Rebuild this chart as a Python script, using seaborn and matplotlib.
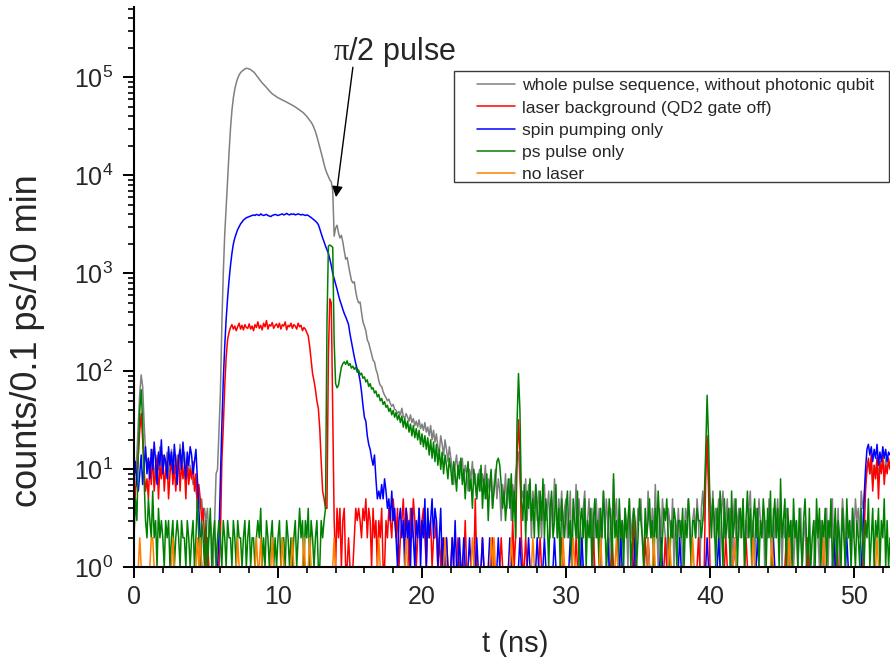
import numpy as np
import matplotlib
matplotlib.use('Agg')
import matplotlib.pyplot as plt
import seaborn as sns
from matplotlib.ticker import LogLocator, MultipleLocator, NullFormatter
from matplotlib.patches import Rectangle

# time bins of 0.1 ns, counts (0 = empty bin)
bin_ns = 0.1

whole_seq = [
    12, 10, 14, 30, 60, 92, 70, 30, 15, 11, 13, 9, 12, 16, 8, 11, 14, 10, 17, 12,
    9, 13, 11, 15, 8, 12, 16, 10, 13, 9, 14, 11, 18, 9, 12, 15, 10, 13, 8, 11,
    9, 7, 8, 6, 5, 6, 4, 5, 3, 4, 3, 4, 2, 3, 2, 1, 0, 9, 10, 25,
    60, 300, 1000, 2500, 4800, 9000, 17000, 30000, 46000, 62000, 76000, 88000, 98000, 106000, 112000, 116000, 119000, 122000, 124000, 123500,
    122000, 120000, 117000, 114000, 110000, 105000, 100000, 96000, 92000, 88000, 85000, 82000, 79000, 76000, 73000, 70500, 68000, 66500, 65000, 63500,
    62000, 61000, 60000, 59000, 58000, 57000, 56000, 55000, 54000, 53000, 52000, 51000, 50000, 48800, 47500, 46500, 45500, 44300, 43000, 41500,
    40000, 38300, 36500, 35000, 33000, 30500, 28000, 25000, 22000, 19500, 17000, 15000, 13000, 11500, 10500, 9700, 9000, 8600, 7000, 2400,
    2900, 3100, 2600, 2300, 2450, 2100, 1700, 1400, 1450, 1200, 1000, 850, 800, 820, 650, 550, 500, 510, 400, 320,
    290, 260, 210, 195, 170, 150, 130, 125, 105, 95, 80, 72, 70, 62, 57, 54, 50, 52, 47, 44,
    46, 41, 40, 37, 39, 36, 42, 35, 33, 37, 34, 31, 36, 30, 33, 28, 31, 27, 32, 26,
    29, 25, 30, 24, 27, 22, 28, 20, 25, 19, 23, 17, 15, 22, 18, 14, 20, 16, 12, 17,
    13, 10, 7, 11, 14, 9, 12, 10, 13, 8, 11, 9, 6, 10, 8, 12, 7, 9, 5, 8,
    10, 6, 9, 7, 11, 5, 8, 6, 9, 4, 7, 10, 5, 8, 6, 3, 7, 5, 9, 4,
    6, 8, 3, 7, 5, 9, 12, 15, 8, 5, 6, 4, 8, 3, 7, 5, 2, 6, 4, 7,
    3, 6, 4, 2, 5, 7, 3, 4, 6, 2, 5, 3, 8, 4, 2, 5, 3, 6, 2, 4,
    5, 2, 3, 6, 1, 4, 3, 7, 2, 5, 3, 1, 4, 6, 2, 3, 5, 2, 4, 1,
    3, 5, 2, 4, 1, 3, 6, 2, 5, 3, 1, 4, 2, 8, 3, 5, 2, 4, 1, 3,
    2, 4, 3, 1, 5, 2, 3, 4, 1, 2, 4, 3, 5, 2, 1, 3, 2, 6, 3, 2,
    4, 2, 7, 3, 1, 4, 2, 5, 3, 2, 1, 4, 3, 2, 5, 1, 3, 2, 4, 2,
    3, 1, 2, 4, 3, 5, 2, 1, 3, 4, 2, 5, 3, 1, 4, 6, 3, 10, 20, 8,
    5, 3, 6, 2, 4, 3, 5, 1, 4, 6, 2, 3, 5, 2, 4, 1, 3, 5, 2, 3,
    4, 2, 3, 5, 1, 3, 2, 4, 6, 2, 3, 1, 4, 2, 5, 3, 2, 4, 1, 3,
    2, 5, 3, 1, 4, 2, 3, 5, 2, 4, 1, 3, 2, 4, 3, 1, 2, 3, 1, 2,
    3, 1, 2, 4, 1, 2, 3, 1, 2, 1, 0, 0, 1, 3, 0, 2, 1, 3, 2, 1,
    2, 4, 1, 3, 2, 5, 1, 3, 2, 4, 1, 2, 5, 3, 1, 4, 2, 3, 1, 4,
    2, 5, 3, 4, 2, 6, 4, 5, 8, 10, 12, 9, 13, 7, 11, 9, 13, 8, 12, 10,
    12, 9, 13, 10, 11, 12,
]

laser_bg = [
    3, 6, 9, 14, 25, 37, 20, 10, 6, 8, 5, 12, 7, 15, 6, 9, 13, 5, 11, 8,
    14, 6, 10, 12, 5, 9, 13, 7, 11, 6, 10, 14, 6, 12, 8, 11, 5, 13, 7, 10,
    8, 12, 6, 9, 4, 7, 5, 3, 4, 2, 1, 2, 1, 1, 0, 1, 1, 0, 1, 1,
    2, 12, 27, 70, 140, 210, 250, 280, 300, 270, 290, 260, 285, 310, 270, 295, 265, 300, 280, 275,
    305, 270, 290, 260, 300, 280, 320, 275, 295, 265, 310, 285, 330, 270, 300, 290, 315, 275, 295, 305,
    280, 310, 270, 300, 290, 320, 265, 295, 285, 310, 275, 300, 290, 270, 310, 285, 295, 260, 280, 270,
    250, 230, 180, 130, 95, 80, 65, 50, 42, 26, 12, 6, 5, 4, 4, 150, 550, 500, 40, 3,
    1, 4, 2, 4, 1, 3, 4, 1, 1, 2, 1, 1, 1, 2, 4, 3, 4, 3, 2, 4,
    3, 5, 2, 4, 3, 1, 4, 2, 3, 1, 3, 2, 4, 1, 1, 3, 2, 4, 3, 2,
    5, 3, 2, 4, 1, 2, 3, 5, 2, 4, 3, 1, 4, 2, 5, 3, 1, 2, 4, 2,
    3, 4, 2, 1, 3, 2, 3, 1, 2, 2, 3, 1, 2, 1, 2, 1, 1, 2, 1, 1,
    1, 2, 1, 1, 1, 2, 1, 1, 1, 1, 3, 1, 1, 1, 1, 1, 1, 5, 1, 1,
    1, 1, 2, 1, 1, 1, 1, 1, 1, 2, 1, 1, 1, 1, 1, 2, 1, 1, 1, 1,
    1, 1, 1, 3, 1, 2, 12, 32, 15, 2, 1, 1, 2, 1, 1, 1, 1, 1, 1, 1,
    1, 1, 2, 1, 1, 1, 1, 1, 1, 1, 1, 1, 1, 1, 1, 1, 1, 2, 1, 1,
    1, 1, 1, 1, 1, 1, 1, 2, 1, 1, 1, 1, 1, 1, 1, 1, 1, 1, 1, 2,
    1, 1, 1, 1, 1, 1, 1, 1, 1, 1, 1, 1, 2, 1, 1, 1, 1, 1, 1, 1,
    1, 1, 1, 1, 1, 1, 1, 3, 1, 1, 1, 1, 1, 1, 1, 2, 1, 1, 1, 1,
    1, 1, 1, 1, 1, 1, 1, 1, 1, 2, 1, 1, 1, 1, 1, 1, 1, 1, 1, 1,
    1, 1, 1, 1, 1, 1, 1, 1, 1, 1, 1, 1, 2, 1, 1, 1, 1, 8, 22, 6,
    1, 1, 1, 1, 1, 1, 1, 1, 1, 1, 1, 2, 1, 1, 1, 1, 1, 1, 1, 1,
    1, 1, 1, 1, 1, 2, 1, 1, 1, 1, 1, 1, 1, 1, 1, 1, 1, 1, 1, 1,
    1, 1, 1, 1, 1, 1, 1, 1, 1, 1, 1, 1, 1, 2, 1, 1, 1, 1, 1, 1,
    1, 1, 1, 1, 1, 1, 1, 1, 2, 1, 1, 1, 1, 1, 1, 1, 1, 1, 1, 1,
    1, 1, 1, 1, 1, 1, 1, 1, 2, 1, 1, 1, 1, 1, 1, 1, 1, 1, 1, 1,
    1, 1, 1, 1, 1, 1, 1, 2, 6, 10, 13, 9, 14, 6, 11, 8, 13, 5, 12, 9,
    14, 7, 11, 9, 13, 10,
]

spin_pumping = [
    8, 12, 7, 6, 9, 14, 7, 11, 17, 9, 13, 8, 16, 10, 19, 12, 7, 15, 11, 20,
    9, 14, 12, 8, 17, 11, 15, 9, 18, 12, 7, 13, 16, 10, 19, 12, 8, 15, 11, 17,
    14, 9, 12, 16, 8, 4, 2, 1, 1, 1, 1, 1, 0, 1, 1, 0, 1, 1, 1, 2,
    8, 28, 80, 180, 340, 560, 850, 1200, 1600, 2000, 2300, 2550, 2800, 3000, 3200, 3350, 3500, 3600, 3700, 3750,
    3800, 3850, 3900, 3950, 3900, 4000, 3950, 3900, 4050, 3950, 3900, 3950, 4000, 3900, 3850, 3800, 3900, 3950, 4000, 3950,
    3900, 3950, 4000, 4050, 3950, 4000, 4100, 4000, 3950, 4050, 4000, 4050, 3950, 4000, 4050, 4000, 3950, 4000, 3950, 3900,
    3950, 3900, 3800, 3720, 3620, 3520, 3420, 3300, 3150, 2850, 2550, 2300, 2100, 1900, 1740, 1600, 1400, 1200, 1000, 880,
    780, 690, 600, 530, 480, 430, 390, 360, 330, 300, 240, 200, 165, 140, 120, 105, 96, 80, 62, 45,
    34, 31, 22, 18, 16, 13, 11, 14, 8, 5, 6, 5, 7, 5, 8, 6, 4, 5, 3, 6,
    3, 4, 2, 1, 3, 4, 2, 3, 1, 4, 2, 3, 1, 4, 2, 1, 3, 2, 4, 1,
    3, 2, 5, 1, 4, 2, 3, 5, 2, 4, 3, 1, 2, 4, 1, 2, 1, 2, 1, 1,
    1, 2, 1, 3, 1, 1, 2, 1, 1, 2, 1, 1, 1, 2, 1, 0, 1, 1, 2, 1,
    1, 1, 2, 1, 1, 1, 1, 2, 1, 1, 1, 1, 1, 2, 1, 1, 0, 1, 1, 1,
    1, 2, 1, 1, 1, 1, 1, 1, 2, 1, 1, 1, 1, 1, 2, 1, 1, 1, 1, 1,
    2, 1, 1, 1, 1, 2, 1, 1, 1, 1, 1, 1, 2, 1, 1, 1, 1, 1, 1, 1,
    1, 1, 1, 2, 1, 1, 1, 1, 1, 1, 1, 2, 1, 1, 1, 1, 1, 1, 1, 1,
    1, 1, 1, 1, 1, 1, 1, 1, 1, 2, 1, 1, 1, 1, 1, 1, 1, 1, 2, 1,
    1, 1, 1, 1, 1, 1, 1, 1, 2, 1, 1, 1, 1, 1, 1, 1, 1, 2, 1, 1,
    1, 1, 1, 1, 1, 1, 2, 1, 1, 1, 1, 1, 1, 1, 1, 1, 1, 1, 1, 2,
    1, 1, 1, 1, 1, 1, 1, 1, 1, 1, 1, 1, 1, 1, 1, 1, 1, 1, 2, 1,
    1, 1, 1, 1, 1, 1, 2, 1, 1, 1, 1, 1, 1, 1, 1, 1, 1, 2, 1, 1,
    1, 1, 1, 1, 1, 1, 1, 1, 1, 1, 1, 1, 1, 2, 1, 1, 1, 1, 1, 1,
    1, 1, 1, 1, 2, 1, 1, 1, 1, 1, 1, 1, 1, 1, 1, 1, 1, 1, 1, 1,
    1, 1, 1, 1, 1, 1, 1, 1, 1, 1, 1, 1, 1, 1, 1, 1, 1, 1, 1, 1,
    1, 1, 1, 1, 1, 1, 2, 1, 1, 1, 1, 1, 1, 1, 1, 2, 1, 1, 1, 1,
    1, 1, 1, 1, 1, 1, 2, 5, 10, 16, 18, 14, 17, 12, 16, 13, 18, 11, 15, 12,
    17, 13, 16, 12, 15, 14,
]

ps_pulse = [
    2, 5, 3, 15, 40, 65, 30, 8, 3, 2, 5, 3, 2, 6, 2, 3, 1, 4, 2, 3,
    2, 1, 3, 2, 3, 1, 2, 3, 1, 2, 3, 2, 1, 3, 2, 2, 1, 3, 2, 1,
    2, 3, 1, 2, 5, 2, 1, 3, 2, 1, 3, 1, 2, 4, 1, 2, 3, 1, 2, 3,
    2, 1, 3, 2, 1, 3, 2, 2, 1, 3, 2, 1, 3, 2, 2, 1, 2, 3, 1, 2,
    3, 1, 2, 2, 1, 2, 3, 2, 4, 1, 2, 1, 3, 2, 1, 2, 3, 1, 2, 1,
    2, 3, 1, 2, 2, 1, 3, 2, 1, 2, 1, 2, 3, 1, 2, 4, 2, 3, 1, 3,
    2, 4, 1, 3, 2, 1, 2, 3, 1, 1, 3, 2, 3, 4, 300, 1900, 1950, 1900, 1850, 200,
    75, 68, 72, 90, 110, 120, 125, 118, 128, 115, 120, 108, 113, 105, 110, 98, 103, 92, 96, 85,
    88, 78, 82, 70, 75, 66, 68, 60, 63, 55, 58, 50, 53, 46, 49, 43, 45, 39, 42, 36,
    40, 34, 38, 32, 36, 30, 35, 27, 33, 26, 31, 24, 29, 22, 28, 21, 26, 20, 25, 18,
    23, 17, 22, 16, 21, 14, 20, 13, 19, 12, 18, 11, 16, 10, 15, 9, 14, 11, 8, 13,
    10, 7, 12, 9, 6, 11, 8, 13, 7, 10, 5, 9, 12, 6, 8, 4, 10, 7, 5, 9,
    6, 11, 4, 8, 5, 9, 3, 7, 10, 4, 6, 8, 12, 13, 11, 7, 4, 6, 3, 5,
    8, 4, 9, 3, 6, 2, 30, 95, 40, 5, 3, 7, 2, 6, 4, 8, 3, 5, 2, 7,
    4, 2, 6, 3, 8, 2, 5, 3, 1, 4, 6, 2, 3, 7, 2, 4, 1, 5, 3, 2,
    4, 6, 2, 3, 1, 5, 3, 2, 6, 1, 3, 4, 2, 5, 1, 3, 2, 4, 1, 3,
    5, 2, 3, 1, 4, 2, 6, 3, 1, 2, 5, 3, 1, 9, 2, 3, 1, 5, 2, 3,
    1, 4, 2, 3, 5, 1, 2, 4, 3, 1, 2, 5, 3, 2, 1, 4, 2, 3, 5, 2,
    3, 1, 4, 2, 6, 3, 1, 2, 4, 3, 5, 2, 1, 3, 2, 4, 3, 1, 3, 3,
    2, 4, 1, 3, 2, 5, 3, 1, 3, 3, 2, 4, 3, 3, 2, 3, 5, 15, 57, 20,
    4, 2, 5, 3, 1, 4, 2, 6, 3, 1, 5, 2, 3, 4, 1, 6, 2, 3, 5, 1,
    3, 4, 2, 5, 1, 3, 6, 2, 4, 1, 3, 5, 2, 4, 1, 3, 2, 5, 3, 1,
    4, 2, 6, 1, 3, 5, 2, 4, 1, 8, 2, 3, 5, 1, 4, 2, 3, 1, 5, 2,
    3, 1, 4, 2, 1, 3, 5, 2, 1, 4, 1, 2, 3, 1, 5, 2, 4, 1, 3, 2,
    4, 1, 3, 2, 5, 1, 2, 4, 1, 3, 2, 1, 4, 2, 1, 5, 2, 3, 1, 4,
    2, 1, 3, 2, 1, 4, 2, 1, 3, 2, 5, 1, 2, 4, 1, 3, 2, 4, 1, 3,
    2, 5, 1, 3, 1, 2,
]

no_laser = [
    1, 1, 1, 1, 2, 1, 1, 1, 1, 1, 1, 1, 2, 2, 1, 1, 1, 1, 1, 1,
    1, 1, 1, 1, 1, 1, 1, 2, 1, 1, 1, 1, 1, 1, 1, 1, 1, 1, 1, 1,
    1, 1, 1, 1, 2, 1, 2, 1, 1, 1, 1, 1, 1, 1, 1, 1, 1, 1, 1, 1,
    1, 1, 1, 1, 1, 1, 1, 1, 1, 1, 1, 1, 2, 1, 1, 1, 1, 1, 1, 1,
    1, 1, 1, 1, 1, 2, 1, 1, 2, 1, 1, 1, 1, 1, 1, 1, 2, 1, 1, 1,
    1, 1, 1, 2, 1, 1, 1, 1, 1, 1, 2, 1, 1, 1, 1, 1, 1, 1, 2, 1,
    1, 1, 2, 1, 1, 1, 1, 1, 1, 1, 1, 1, 1, 1, 1, 1, 1, 1, 1, 2,
    1, 1, 1, 1, 1, 1, 1, 1, 1, 1, 1, 1, 1, 1, 1, 1, 1, 1, 1, 1,
    1, 1, 1, 1, 1, 1, 1, 1, 1, 1, 2, 1, 1, 1, 1, 1, 1, 1, 1, 1,
    1, 1, 1, 1, 1, 1, 1, 1, 1, 2, 1, 1, 1, 1, 1, 1, 1, 1, 1, 1,
    1, 1, 1, 1, 1, 1, 1, 1, 1, 1, 1, 1, 1, 1, 1, 1, 2, 1, 1, 1,
    1, 1, 1, 1, 1, 1, 1, 1, 1, 1, 1, 1, 1, 1, 1, 2, 1, 1, 1, 1,
    1, 1, 1, 1, 1, 1, 1, 1, 2, 1, 2, 1, 1, 1, 1, 1, 1, 1, 1, 1,
    1, 1, 2, 1, 1, 1, 1, 1, 1, 1, 1, 1, 1, 1, 1, 1, 1, 2, 1, 1,
    1, 1, 1, 1, 1, 1, 1, 1, 1, 1, 1, 1, 1, 1, 1, 1, 1, 1, 2, 1,
    1, 1, 1, 1, 1, 2, 1, 1, 1, 1, 1, 1, 1, 1, 1, 1, 1, 1, 1, 1,
    1, 1, 1, 1, 2, 1, 1, 1, 1, 1, 1, 1, 1, 1, 1, 2, 1, 1, 1, 1,
    1, 1, 1, 1, 1, 1, 1, 1, 1, 1, 1, 1, 1, 1, 1, 1, 1, 2, 1, 1,
    1, 2, 1, 1, 1, 1, 1, 1, 1, 1, 1, 1, 2, 1, 1, 1, 1, 1, 1, 1,
    1, 1, 1, 1, 1, 1, 1, 1, 2, 1, 1, 1, 1, 1, 1, 1, 1, 1, 1, 1,
    1, 1, 1, 1, 1, 1, 1, 1, 1, 1, 1, 1, 1, 1, 1, 1, 1, 2, 1, 1,
    1, 1, 1, 1, 1, 1, 1, 1, 1, 1, 2, 1, 1, 1, 1, 1, 1, 1, 1, 1,
    1, 1, 1, 2, 1, 1, 1, 1, 1, 1, 1, 1, 1, 1, 1, 2, 1, 1, 1, 1,
    1, 1, 1, 1, 1, 1, 1, 1, 1, 1, 1, 1, 1, 1, 1, 1, 1, 1, 1, 2,
    1, 1, 1, 1, 1, 1, 1, 1, 1, 1, 1, 1, 1, 1, 1, 1, 1, 1, 1, 1,
    1, 1, 1, 1, 1, 1, 1, 1, 1, 1, 1, 1, 1, 1, 1, 1, 2, 1, 1, 1,
    1, 1, 1, 1, 1, 1,
]

labels = ['whole pulse sequence, without photonic qubit',
          'laser background (QD2 gate off)',
          'spin pumping only',
          'ps pulse only',
          'no laser']
colors = ['#808080', '#ff0000', '#0000ff', '#008000', '#ff8000']
traces = [whole_seq, laser_bg, spin_pumping, ps_pulse, no_laser]

sns.set_style('ticks')
plt.rcParams['font.family'] = ['Liberation Sans', 'DejaVu Sans']
plt.rcParams['mathtext.fontset'] = 'custom'
plt.rcParams['mathtext.rm'] = 'Liberation Serif'
plt.rcParams['mathtext.default'] = 'regular'

fig = plt.figure(figsize=(8.9, 6.57), dpi=100)
ax = fig.add_axes([134 / 890, 89.7 / 657, 756 / 890, 560 / 657])

for lab, counts, col in zip(labels, traces, colors):
    y = np.asarray(counts, dtype=float)
    y[y <= 0] = np.nan
    t = np.arange(len(y)) * bin_ns
    sns.lineplot(x=t, y=y, ax=ax, color=col, lw=1.1, label=lab,
                 estimator=None, sort=False)

ax.set_yscale('log')
ax.set_ylim(1, 5.2e5)
ax.set_xlim(0, 52.5)

ax.xaxis.set_major_locator(MultipleLocator(10))
ax.xaxis.set_minor_locator(MultipleLocator(2))
ax.yaxis.set_major_locator(LogLocator(base=10, numticks=12))
ax.yaxis.set_minor_locator(LogLocator(base=10, subs=np.arange(2, 10), numticks=12))
ax.yaxis.set_minor_formatter(NullFormatter())

ax.tick_params(which='major', direction='out', length=8, width=1.4,
               labelsize=18, color='k')
ax.tick_params(which='minor', direction='out', length=4, width=1.2, color='k')
ax.tick_params(axis='x', which='major', pad=5)
ax.tick_params(axis='y', which='major', pad=7)

for s in ['top', 'right']:
    ax.spines[s].set_visible(False)
for s in ['left', 'bottom']:
    ax.spines[s].set_linewidth(1.5)
    ax.spines[s].set_color('k')

ax.set_xlabel('t (ns)', fontsize=21)
ax.xaxis.set_label_coords(0.504, -0.112)
ax.set_ylabel('counts/0.1 ps/10 min', fontsize=26)
ax.yaxis.set_label_coords(-0.118, 0.404)

ax.text(13.8, 1.8e5, r'$\mathrm{\pi}$/2 pulse', fontsize=22, ha='left', va='center')
ax.annotate('', xy=(14.03, 6000), xytext=(15.2, 1.27e5),
            arrowprops=dict(arrowstyle='-|>', color='k', lw=1.0,
                            shrinkA=0, shrinkB=0, mutation_scale=16))

handles, labs = ax.get_legend_handles_labels()
ax.legend(handles, labs, loc='upper left',
          bbox_to_anchor=(477 / 890, 1 - 78 / 657), bbox_transform=fig.transFigure,
          frameon=False, fontsize=12.6, handlelength=2.15, handletextpad=0.42,
          labelspacing=0.4, borderpad=0, borderaxespad=0)
fig.add_artist(Rectangle((454 / 890, 1 - 182 / 657), 435 / 890, 111 / 657,
                         transform=fig.transFigure, fill=False,
                         edgecolor='#3a3a3a', lw=1.0))

fig.savefig('out.png', dpi=100)
plt.close(fig)
